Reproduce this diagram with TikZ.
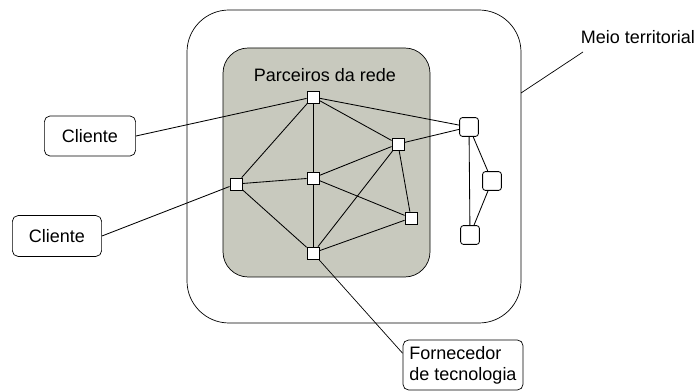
\documentclass[tikz,border=0pt]{standalone}
\usepackage{fontspec}
\setmainfont{Liberation Sans}
\usepackage{xcolor}
\usepackage{tikz}
\usetikzlibrary{positioning}

\definecolor{rede}{RGB}{200,201,190}

\tikzset{
  no/.style={draw, fill=white, line width=0.6pt, minimum size=0.3cm, inner sep=0pt},
  noext/.style={draw, fill=white, line width=0.6pt, minimum size=0.47cm, inner sep=0pt, rounded corners=2pt},
  caixa/.style={draw, line width=0.5pt, rounded corners=4pt, inner sep=2pt},
  liga/.style={line width=0.6pt}
}

\begin{document}
\begin{tikzpicture}[x=0.025cm, y=-0.025cm, font=\fontsize{12.8}{15}\selectfont]
\useasboundingbox (0,0) rectangle (699,392);

%territorio
\draw[line width=0.5pt, rounded corners=1.05cm] (187,10) rectangle (521,323);
%rede
\draw[fill=rede, line width=0.5pt, rounded corners=0.63cm] (223,48) rectangle (430,277);

\node (parc) at (325,75) {Parceiros da rede};

%nos da rede
\node[no] (a) at (313,97) {};
\node[no] (b) at (398,144) {};
\node[no] (c) at (236,184) {};
\node[no] (d) at (313,178) {};
\node[no] (e) at (411,218) {};
\node[no] (f) at (313,253) {};

%nos externos
\node[noext] (g) at (469,127) {};
\node[noext] (h) at (492,181) {};
\node[noext] (i) at (470,235) {};

%ligacoes
\draw[liga] (a) -- (c);
\draw[liga] (a) -- (d);
\draw[liga] (a) -- (b);
\draw[liga] (a) -- (g);
\draw[liga] (b) -- (g);
\draw[liga] (b) -- (d);
\draw[liga] (b) -- (f);
\draw[liga] (b) -- (e);
\draw[liga] (c) -- (d);
\draw[liga] (c) -- (f);
\draw[liga] (d) -- (f);
\draw[liga] (d) -- (e);
\draw[liga] (e) -- (f);
\draw[liga] (g) -- (h);
\draw[liga] (g) -- (i);
\draw[liga] (h) -- (i);

%atores
\node[caixa, minimum width=2.28cm, minimum height=1cm] (cli1) at (90,136) {Cliente};
\node[caixa, minimum width=2.23cm, minimum height=1.02cm] (cli2) at (57,236) {Cliente};
\node[caixa, align=left, minimum width=3cm, minimum height=1.25cm] (forn) at (463,365) {Fornecedor\\de tecnologia};

\draw[liga] (cli1.east) -- (a);
\draw[liga] (cli2.east) -- (c);
\draw[line width=0.5pt] (f) -- (forn.169);

%meio territorial
\node (meio) at (638,37) {Meio territorial};
\coordinate (mt1) at (583,52);
\coordinate (mt2) at (521,93);
\draw[line width=0.5pt] (mt1) -- (mt2);

\end{tikzpicture}
\end{document}
